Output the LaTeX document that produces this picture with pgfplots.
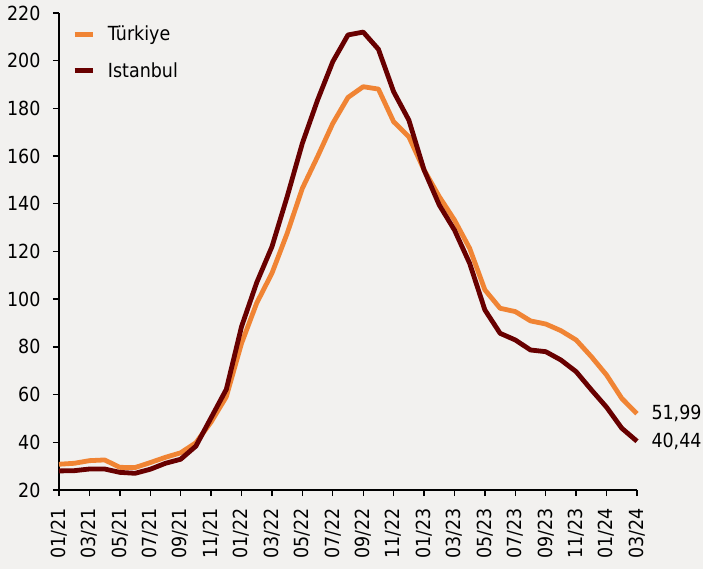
\documentclass[border=0pt]{standalone}
\usepackage{fontspec}
\IfFontExistsTF{DejaVu Sans Condensed}{\setmainfont{DejaVu Sans Condensed}}{\setmainfont{DejaVu Sans}[FakeStretch=0.88]}
\usepackage{pgfplots}
\pgfplotsset{compat=1.18}
\usepackage{pgfplotstable}
\definecolor{bg}{RGB}{242,241,239}
\definecolor{turk}{RGB}{240,132,52}
\definecolor{ist}{RGB}{104,0,0}
\pgfplotstableread{
i tr ist
0 30.8 28.0
1 31.2 28.1
2 32.3 28.8
3 32.6 28.8
4 29.5 27.4
5 29.4 27.0
6 31.5 28.7
7 33.7 31.2
8 35.6 32.9
9 39.8 38.4
10 48.5 50.3
11 59.1 62.2
12 81.5 88.5
13 98.4 107.0
14 110.9 122.0
15 127.6 143.0
16 146.5 165.4
17 159.8 183.5
18 173.7 199.6
19 184.6 210.8
20 189.1 212.0
21 188.1 204.8
22 174.4 187.0
23 168.1 175.1
24 154.2 154.2
25 143.0 139.5
26 133.2 129.0
27 121.3 115.0
28 103.9 95.5
29 96.2 85.7
30 94.8 82.9
31 90.9 78.7
32 89.6 78.0
33 86.8 74.5
34 82.9 69.6
35 75.9 62.0
36 68.2 54.7
37 58.4 45.9
38 51.99 40.44
}\datatable
\begin{document}
\begin{tikzpicture}
\fill[bg] (-59bp,-79bp) rectangle (644bp,490bp);
\useasboundingbox (-59bp,-79bp) rectangle (644bp,490bp);
\begin{axis}[
  at={(0,0)}, anchor=south west,
  scale only axis, width=578bp, height=477bp,
  xmin=0, xmax=38, ymin=20, ymax=220,
  axis lines*=left,
  axis line style={line width=1.4bp, black},
  every tick/.style={line width=1.4bp, black},
  tick align=outside, major tick length=6bp,
  xtick={0,2,...,38},
  xticklabels={01/21,03/21,05/21,07/21,09/21,11/21,01/22,03/22,05/22,07/22,09/22,11/22,01/23,03/23,05/23,07/23,09/23,11/23,01/24,03/24},
  ytick={20,40,...,220},
  /pgf/number format/assume math mode=true,
  tick label style={font=\fontsize{19.5}{22}\selectfont},
  xticklabel style={rotate=90, anchor=east, xshift=-9bp},
  yticklabel style={xshift=-9bp},
  clip=false,
  legend style={at={(axis description cs:0,1)}, anchor=north west, xshift=10bp, yshift=-9bp, draw=none, fill=none,
    font=\fontsize{19.5}{22}\selectfont, row sep=16bp},
  legend image code/.code={\draw[#1] (0bp,0bp) -- (18bp,0bp); \path (29bp,0bp);},
  legend cell align=left,
]
\addplot[turk, line width=4.8bp, line join=round] table[x=i, y=tr] {\datatable};
\addlegendentry{Türkiye}
\addplot[ist, line width=4.8bp, line join=round] table[x=i, y=ist] {\datatable};
\addlegendentry{Istanbul}
\node[anchor=west, font=\fontsize{19.5}{22}\selectfont, xshift=11bp] at (axis cs:38,51.99) {51,99};
\node[anchor=west, font=\fontsize{19.5}{22}\selectfont, xshift=11bp] at (axis cs:38,40.44) {40,44};
\end{axis}
\end{tikzpicture}
\end{document}
